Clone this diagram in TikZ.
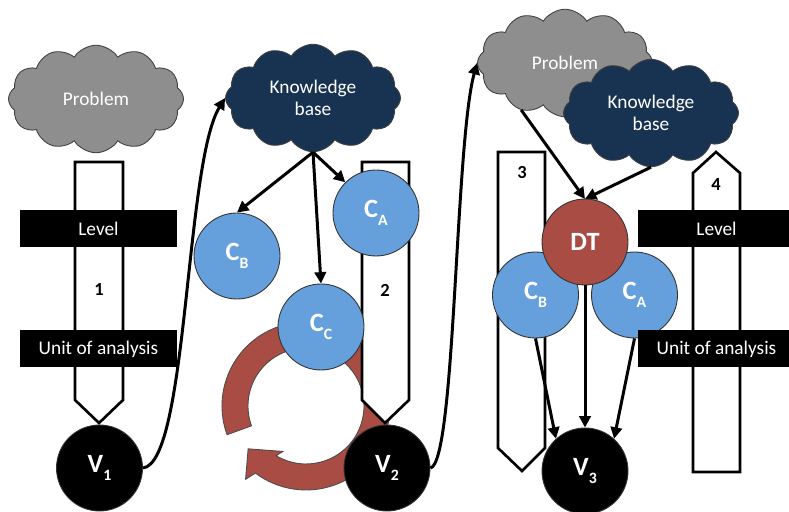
\documentclass[tikz,border=0pt]{standalone}
\usepackage{fontspec}
\setmainfont{Carlito}
\usepackage{tikz}
\usetikzlibrary{shapes.symbols,arrows.meta}
\definecolor{cloudgray}{HTML}{8E8E8E}
\definecolor{kbnavy}{HTML}{183352}
\definecolor{cblue}{HTML}{65A0DC}
\definecolor{dtred}{HTML}{A84C44}
\newcommand{\circsub}[1]{{\fontsize{9}{9}\selectfont\raisebox{-4.5pt}{#1}}}

\begin{document}
\begin{tikzpicture}[x=0.2mm,y=0.2mm,
  cloudnode/.style={cloud, cloud puffs=12, cloud puff arc=115, aspect=1.65, draw=black!75, line width=0.5pt, minimum width=35mm, minimum height=21.5mm, inner sep=0pt, align=center, text=white, font=\fontsize{11}{12.5}\selectfont},
  bignode/.style={circle, draw=black!80, line width=0.5pt, minimum size=17.2mm, inner sep=0pt, text=white, font=\fontsize{15}{15}\selectfont\bfseries},
  vnode/.style={bignode, fill=black},
  cnode/.style={bignode, fill=cblue},
  barnode/.style={fill=black, text=white, minimum width=31.4mm, minimum height=7.4mm, inner sep=0pt, font=\fontsize{11}{13}\selectfont},
  blockarrow/.style={draw=black, fill=white, line width=1.5pt},
  numlabel/.style={font=\fontsize{10.5}{12}\selectfont\bfseries},
  conn/.style={line width=1.7pt, -{Triangle[length=6.5pt,width=6.5pt]}}]
\useasboundingbox (0,0) rectangle (789,-512);
\node[cloudnode, fill=cloudgray] (p1) at (96,-99) {Problem};
\draw[blockarrow] (75,-162) -- (123,-162) -- (123,-400) -- (99,-423) -- (75,-400) -- cycle;
\node[numlabel] (lab1) at (99,-290) {1};
\node[barnode] (lvl1) at (98.5,-228.5) {Level};
\node[barnode] (unit1) at (98.5,-349) {Unit of analysis};
\node[vnode] (v1) at (99.5,-468) {V\circsub{1}};
\node[cloudnode, fill=kbnavy] (kb1) at (313,-98) {Knowledge\\base};
\draw[conn] (v1.east) .. controls +(45,5) and +(-40,-65) .. (kb1.west);
\begin{scope}[shift={(306,-406)}]
\filldraw[fill=dtred, draw=black!70, line width=0.5pt] (200:84) arc[start angle=200, end angle=-127, radius=84] -- (230.5:95) -- (216.5:72) -- (243:51) -- (-121:58) arc[start angle=-121, end angle=200, radius=58] -- cycle;
\end{scope}
\draw[blockarrow] (362,-162) -- (409,-162) -- (409,-400) -- (385,-423) -- (362,-400) -- cycle;
\node[numlabel] (lab2) at (385,-290) {2};
\node[cnode] (cb1) at (237,-256) {C\circsub{B}};
\node[cnode] (ca1) at (376,-213) {C\circsub{A}};
\node[cnode] (cc1) at (321,-327) {C\circsub{C}};
\draw[conn] (kb1.south) -- (cb1.north);
\draw[conn] (kb1.south) -- (cc1.north);
\draw[conn] (kb1.south) -- (ca1.135);
\node[vnode] (v2) at (387,-468) {V\circsub{2}};
\node[cloudnode, fill=cloudgray] (p2) at (565,-63) {Problem};
\draw[conn] (v2.east) .. controls +(25,5) and +(-22,-80) .. (p2.west);
\draw[blockarrow] (498,-152) -- (545,-152) -- (545,-448) -- (522,-471) -- (498,-448) -- cycle;
\node[numlabel] (lab3) at (522,-173) {3};
\draw[blockarrow] (693,-472) -- (693,-173) -- (716,-152) -- (740,-173) -- (740,-472) -- cycle;
\node[numlabel] (lab4) at (716,-185) {4};
\node[cloudnode, fill=kbnavy] (kb2) at (651,-113) {Knowledge\\base};
\draw[conn] (p2.227) -- (585,-199);
\draw[conn] (kb2.south) -- (585,-199);
\node[cnode] (cb2) at (535.5,-295) {C\circsub{B}};
\node[cnode] (ca2) at (634.5,-295) {C\circsub{A}};
\node[bignode, fill=dtred] (dt) at (585,-242) {DT};
\node[barnode] (lvl2) at (716.5,-228.5) {Level};
\node[barnode] (unit2) at (716.5,-349) {Unit of analysis};
\node[vnode] (v3) at (585,-471) {V\circsub{3}};
\draw[conn] (cb2.south) -- (v3.132);
\draw[conn] (dt.south) -- (v3.north);
\draw[conn] (ca2.south) -- (v3.48);
\end{tikzpicture}
\end{document}
